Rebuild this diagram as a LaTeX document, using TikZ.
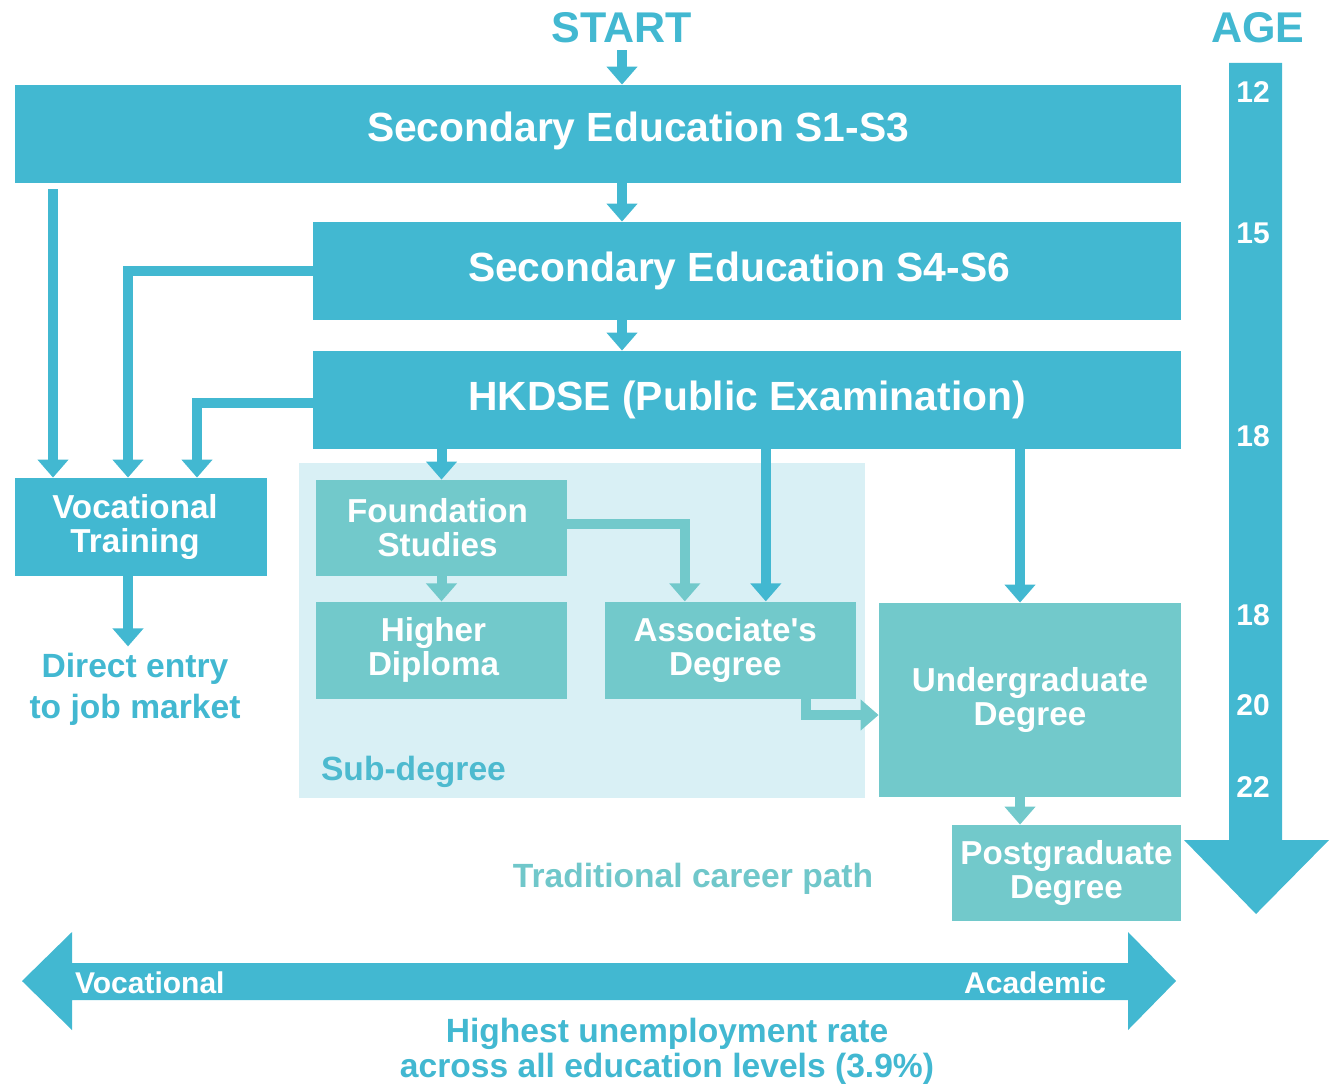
\documentclass[tikz,border=0pt]{standalone}
\usepackage{fontspec}
\setmainfont{Liberation Sans}
\usetikzlibrary{arrows.meta,positioning}
\definecolor{hkblue}{HTML}{42B8D1}
\definecolor{hkteal}{HTML}{72C9CB}
\definecolor{hkpale}{HTML}{D9F0F5}
\definecolor{hklabel}{HTML}{4DBACF}
\definecolor{hkpath}{HTML}{70C7CA}

\begin{document}
\begin{tikzpicture}[x=0.5pt,y=-0.5pt,
    bigtxt/.style={text=white,font=\bfseries\fontsize{20.4}{24}\selectfont},
    bigbox/.style={bigtxt,fill=hkblue,minimum height=49pt,inner sep=0pt},
    box/.style={fill=hkblue,text=white,align=center,font=\bfseries\fontsize{16.6}{17}\selectfont,
        minimum width=125.5pt,minimum height=48pt,inner sep=0pt},
    sub/.style={box,fill=hkteal},
    flow/.style={draw=hkblue,line width=5pt,-{Triangle[width=15pt,length=9pt]}},
    tflow/.style={flow,draw=hkteal},
    lbl/.style={text=hkblue,align=center,font=\bfseries\fontsize{16.8}{20.5}\selectfont},
    head/.style={text=hkblue,font=\bfseries\fontsize{21.5}{24}\selectfont},
    age/.style={text=white,font=\bfseries\fontsize{15}{18}\selectfont}]

    \useasboundingbox (0,0) rectangle (1336,1086);
    \fill[hkpale] (299,463) rectangle (865,798);

    \node   [head]                                  (start) at (622,28)   {START};
    \node   [head]                                  (agehd) at (1258,28)  {AGE};
    \node   [bigbox,minimum width=583pt,
             label={[bigtxt,xshift=20pt,yshift=1.5pt]center:Secondary Education S1-S3}]
                                                    (s13)   at (598,134)  {};
    \node   [bigbox,minimum width=434pt,
             label={[bigtxt,xshift=-4pt]center:Secondary Education S4-S6}]
                                                    (s46)   at (747,271)  {};
    \node   [bigbox,minimum width=434pt]            (dse)   at (747,400)  {HKDSE (Public Examination)};
    \node   [box,minimum width=126pt,minimum height=49pt]
                                                    (voc)   at (141,527)  {\hspace*{-6pt}Vocational\\\hspace*{-6pt}Training};
    \node   [lbl,below=35pt of voc,xshift=-3pt]     (job)                 {Direct entry\\to job market};
    \node   [sub]                                   (found) at (441.5,528) {\hspace*{-4pt}Foundation\\\hspace*{-4pt}Studies};
    \node   [sub,minimum height=48.5pt]
            [below=12.5pt of found]                 (hd)                  {\hspace*{-8pt}Higher\\\hspace*{-8pt}Diploma};
    \node   [sub,minimum height=48.5pt]
            [right=18.5pt of hd]                    (assoc)               {\hspace*{-5pt}Associate\textquotesingle s\\\hspace*{-5pt}Degree};
    \node   [sub,minimum width=151pt,minimum height=97pt]
                                                    (ug)    at (1030,700) {Undergraduate\\Degree};
    \node   [sub,minimum width=114.5pt]             (pg)    at (1066.5,873) {Postgraduate\\Degree};
    \node   [lbl,text=hklabel,anchor=west]          (subl)  at (314,772)  {Sub-degree};
    \node   [lbl,text=hkpath]                       (trad)  at (693,879)  {Traditional career path};

    \coordinate (v1) at ([xshift=-44pt]voc.north);
    \coordinate (v2) at ([xshift=-6.5pt]voc.north);
    \coordinate (v3) at ([xshift=28pt]voc.north);
    \coordinate (a1) at ([xshift=-22.75pt]assoc.north);
    \coordinate (a2) at ([xshift=17.75pt]assoc.north);
    \coordinate (a3) at ([xshift=38pt]assoc.south);
    \coordinate (u1) at ([xshift=-5pt]ug.north);

    \draw   [flow] (start) -- (start |- s13.north);
    \draw   [flow] (s13.south -| start) -- (s46.north -| start);
    \draw   [flow] (s46.south -| start) -- (dse.north -| start);
    \draw   [flow,shorten <=3pt] (v1 |- s13.south) -- (v1);
    \draw   [flow] (s46.west) -| (v2);
    \draw   [flow] ([yshift=-1.5pt]dse.west) -| (v3);
    \draw   [flow] (v2 |- voc.south) -- (v2 |- job.north);
    \draw   [flow] (found.north |- dse.south) -- (found.north);
    \draw   [tflow] (found) -- (hd);
    \draw   [tflow] ([yshift=2pt]found.east) -| (a1);
    \draw   [flow] (a2 |- dse.south) -- (a2);
    \draw   [flow] (u1 |- dse.south) -- (u1);
    \draw   [tflow] (u1 |- ug.south) -- (u1 |- pg.north);
    \draw   [tflow] (a3) |- ([yshift=-7.5pt]ug.west);

    \fill   [hkblue] (1229,63) -- (1282,63) -- (1282,840) -- (1329,840) -- (1256,914)
            -- (1184,840) -- (1229,840) -- cycle;
    \foreach \a/\y in {12/92,15/233,18/436,18/615,20/705,22/787}
        \node [age] (n\y) at (1253,\y) {\a};

    \fill   [hkblue] (22,981) -- (72,932) -- (72,963) -- (1128,963) -- (1128,932) -- (1176,981)
            -- (1128,1030) -- (1128,1000) -- (72,1000) -- (72,1030) -- cycle;
    \node   [age,anchor=west]                       (vocl)  at (68,983)   {Vocational};
    \node   [age,anchor=east]                       (acad)  at (1113,983) {Academic};
    \node   [lbl,font=\bfseries\fontsize{16.8}{17.5}\selectfont]
                                                    (rate)  at (667,1051) {Highest unemployment rate\\across all education levels (3.9\%)};
\end{tikzpicture}
\end{document}
